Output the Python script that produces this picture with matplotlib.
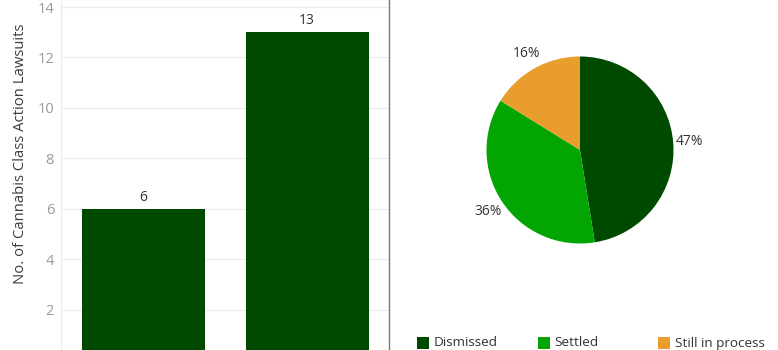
import matplotlib
matplotlib.use("Agg")
import matplotlib.pyplot as plt
from matplotlib.patches import Rectangle

# Data
bar_categories = ["A", "B"]
bar_values = [6, 13]
y_ticks = [0, 2, 4, 6, 8, 10, 12, 14]
y_label = "No. of Cannabis Class Action Lawsuits"

pie_labels = ["Dismissed", "Settled", "Still in process"]
pie_values = [47, 36, 16]
pie_colors = ["#004a00", "#02a502", "#e89d2c"]

plt.rcParams['font.family'] = ['Open Sans', 'DejaVu Sans']

W, H = 778, 350
fig = plt.figure(figsize=(W / 100, H / 100), dpi=100)

# Bar chart
ax = fig.add_axes([61 / W, -10 / H, (389 - 61) / W, 360 / H])
x = list(range(len(bar_categories)))
bars = ax.bar(x, bar_values, width=0.75, color=pie_colors[0], zorder=2)
ax.set_xlim(-0.5, len(bar_categories) - 0.5)
ax.set_ylim(0, 14.28)
ax.set_yticks(y_ticks)
ax.set_xticks([])
ax.tick_params(axis='y', length=0, colors='#9a9a9a', labelsize=10.5, pad=5)
ax.grid(axis='y', color='#ececec', linewidth=0.8, zorder=0)
for s in ['top', 'bottom']:
    ax.spines[s].set_visible(False)
ax.spines['left'].set_color('#ececec')
ax.spines['left'].set_linewidth(0.8)
ax.spines['right'].set_color('#7a7a7a')
ax.spines['right'].set_linewidth(1.0)
ax.set_ylabel(y_label, color='#3c3c3c', fontsize=10.7)
ax.yaxis.set_label_coords(-33 / (389 - 61), (360 - 154) / 360)
for b, v in zip(bars, bar_values):
    ax.annotate(str(v), (b.get_x() + b.get_width() / 2, v), xytext=(0, 3),
                textcoords='offset points', ha='center', va='bottom',
                color='#333333', fontsize=10)

# Pie chart
L = 1.4
R = 93.5
S = 2 * L * R
cx, cy = 580, 150
pax = fig.add_axes([(cx - S / 2) / W, (H - cy - S / 2) / H, S / W, S / H])
pax.pie(pie_values, colors=pie_colors, startangle=90, counterclock=False,
        autopct=lambda p: '%.0f%%' % p, pctdistance=1.18,
        textprops=dict(color='#333333', fontsize=10))
pax.set_xlim(-L, L)
pax.set_ylim(-L, L)
pax.set_aspect('equal')
pax.axis('off')

# Legend
for i, (lab, col) in enumerate(zip(pie_labels, pie_colors)):
    x0 = 417 + i * 120.5
    fig.patches.append(Rectangle((x0 / W, (H - 349) / H), 12 / W, 12 / H,
                                 transform=fig.transFigure, facecolor=col,
                                 edgecolor='none'))
    fig.text((x0 + 17) / W, (H - 343) / H, lab, color='#333333',
             fontsize=9.7, va='center', ha='left')

fig.savefig("out.png", dpi=100)
